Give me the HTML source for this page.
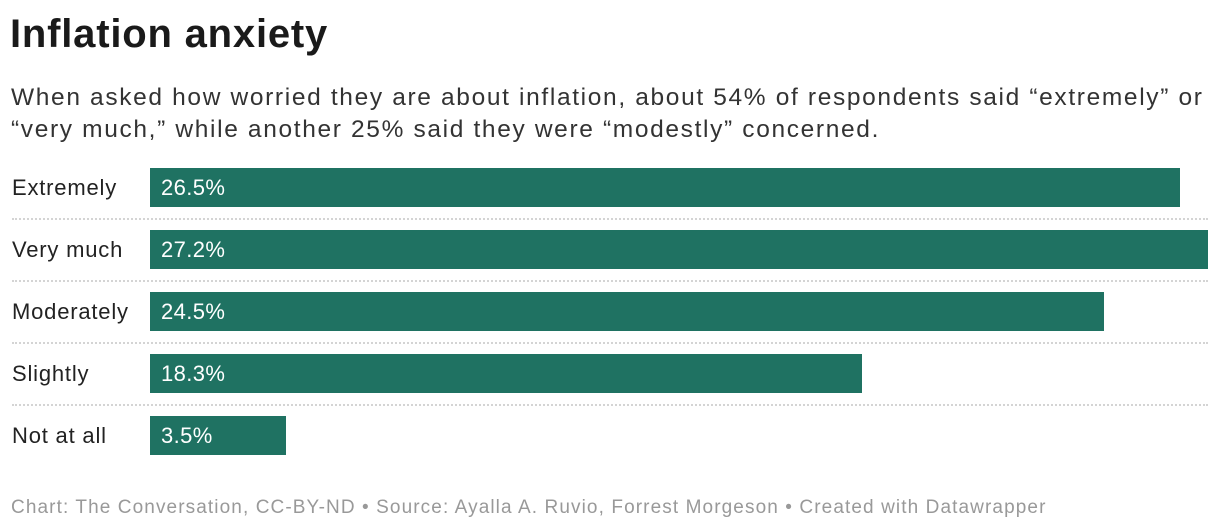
<!DOCTYPE html>
<html><head><style>
body{margin:0;width:1220px;height:532px;background:#fff;font-family:"Liberation Sans",sans-serif;position:relative;overflow:hidden;color:#222}
.t{position:absolute;left:10px;top:12px;font-size:40px;font-weight:bold;letter-spacing:0.8px;color:#1a1a1a}
.s{position:absolute;left:11px;top:82px;font-size:24.5px;line-height:32px;color:#333;width:1215px;letter-spacing:1.65px;white-space:nowrap}
.l{position:absolute;left:12px;font-size:22px;color:#222;line-height:40px;letter-spacing:0.8px}
.b{position:absolute;left:150px;height:39px;background:#1f7262;color:#fff;font-size:22px;line-height:39px;padding-left:11px;box-sizing:border-box;letter-spacing:0.4px}
.d{position:absolute;left:12px;width:1196px;border-top:2px dotted #d4d4d4}
.f{position:absolute;left:11px;top:497px;font-size:19px;color:#999;letter-spacing:1.1px;white-space:nowrap}
</style></head><body>
<div class="t">Inflation anxiety</div>
<div class="s">When asked how worried they are about inflation, about 54% of respondents said “extremely” or<br>“very much,” while another 25% said they were “modestly” concerned.</div>
<div class="l" style="top:168px">Extremely</div><div class="b" style="top:168px;width:1030px">26.5%</div>
<div class="d" style="top:218px"></div>
<div class="l" style="top:230px">Very much</div><div class="b" style="top:230px;width:1058px">27.2%</div>
<div class="d" style="top:280px"></div>
<div class="l" style="top:292px">Moderately</div><div class="b" style="top:292px;width:954px">24.5%</div>
<div class="d" style="top:342px"></div>
<div class="l" style="top:354px">Slightly</div><div class="b" style="top:354px;width:712px">18.3%</div>
<div class="d" style="top:404px"></div>
<div class="l" style="top:416px">Not at all</div><div class="b" style="top:416px;width:136px">3.5%</div>
<div class="f">Chart: The Conversation, CC-BY-ND • Source: Ayalla A. Ruvio, Forrest Morgeson • Created with Datawrapper</div>
</body></html>
